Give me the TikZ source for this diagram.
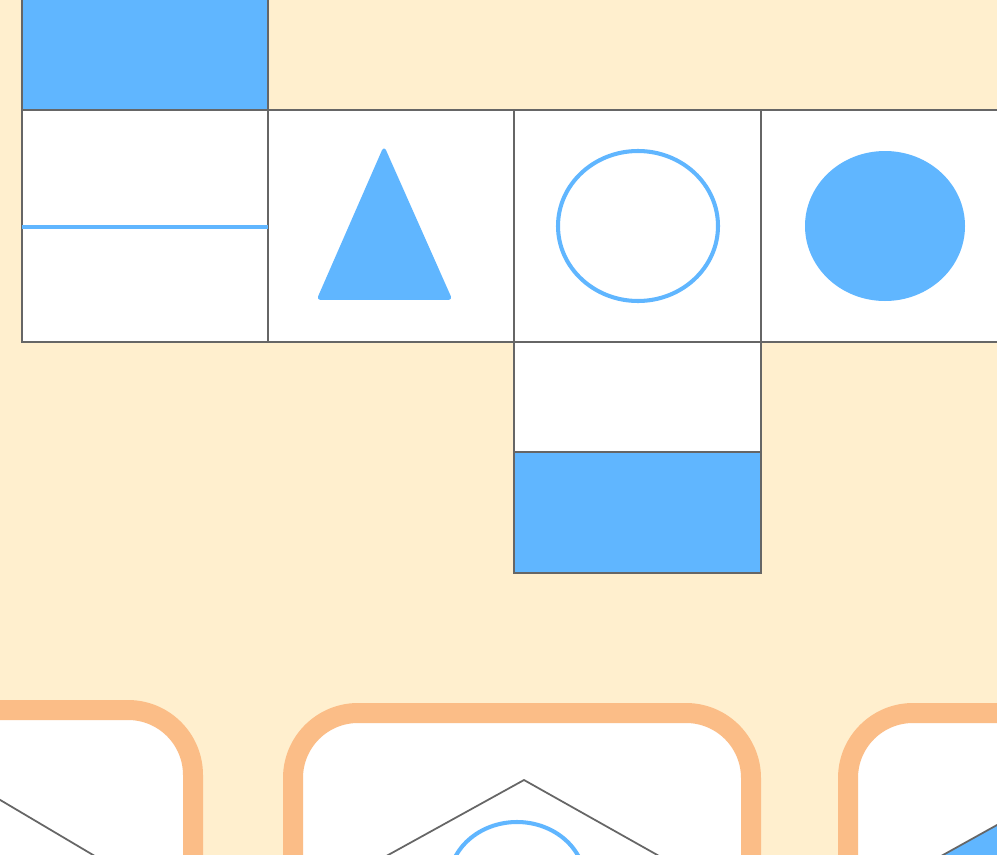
\documentclass[tikz,border=0pt]{standalone}
\usepackage{tikz}
\usetikzlibrary{positioning}
\usepackage{xcolor}
\definecolor{cream}{HTML}{FFEFCE}
\definecolor{skyblue}{HTML}{60B6FF}
\definecolor{peach}{HTML}{FBBD87}
\definecolor{edgegray}{HTML}{666666}

\begin{document}
\begin{tikzpicture}[x=0.02cm, y=-0.02cm,
  cell/.style={draw=edgegray, fill=white, line width=1.1pt},
  bluecell/.style={draw=edgegray, fill=skyblue, line width=1.1pt},
  mark line/.style={draw=skyblue, line width=2.3pt},
  shapefill/.style={fill=skyblue, draw=skyblue, line width=1.1pt, line join=round},
  card/.style={draw=peach, fill=white, line width=0.4cm, rounded corners=1.3cm},
  thin/.style={draw=edgegray, line width=1pt}
]
\fill[cream] (0,0) rectangle (997,855);
\useasboundingbox (0,0) rectangle (997,855);
\clip (0,0) rectangle (997,855);
% top row of cells
\draw[bluecell] (22,-136) rectangle (268,110);
\draw[cell] (22,110) rectangle (268,342);
\draw[cell] (268,110) rectangle (514,342);
\draw[cell] (514,110) rectangle (761,342);
\draw[cell] (761,110) rectangle (1007,342);
\draw[cell] (514,342) rectangle (761,452);
\draw[bluecell] (514,452) rectangle (761,573);
% symbols
\coordinate (bar west) at (22,227);
\coordinate (bar east) at (268,227);
\draw[mark line] (bar west) -- (bar east);
\coordinate (tri top) at (384,148);
\coordinate (tri left) at (318,299);
\coordinate (tri right) at (451,299);
\filldraw[shapefill, rounded corners=1.5pt] (tri top) -- (tri right) -- (tri left) -- cycle;
\draw[mark line] (638,226) ellipse [x radius=80, y radius=75];
\fill[skyblue] (885,226) ellipse [x radius=80, y radius=75];
% bottom cards
\draw[card] (-300,710) rectangle (193,1000);
\draw[card] (293,713) rectangle (751,1000);
\draw[card] (848,713) rectangle (1300,1000);
\coordinate (kite) at (524,780);
\draw[thin] (-20,788) -- (110,865);
\draw[thin] (361,870) -- (kite) -- (684,870);
\draw[mark line] (517,882) ellipse [x radius=68, y radius=60];
\filldraw[fill=skyblue, draw=edgegray, line width=1pt] (925,865) -- (1060,790) -- (1060,900) -- cycle;
\end{tikzpicture}
\end{document}
